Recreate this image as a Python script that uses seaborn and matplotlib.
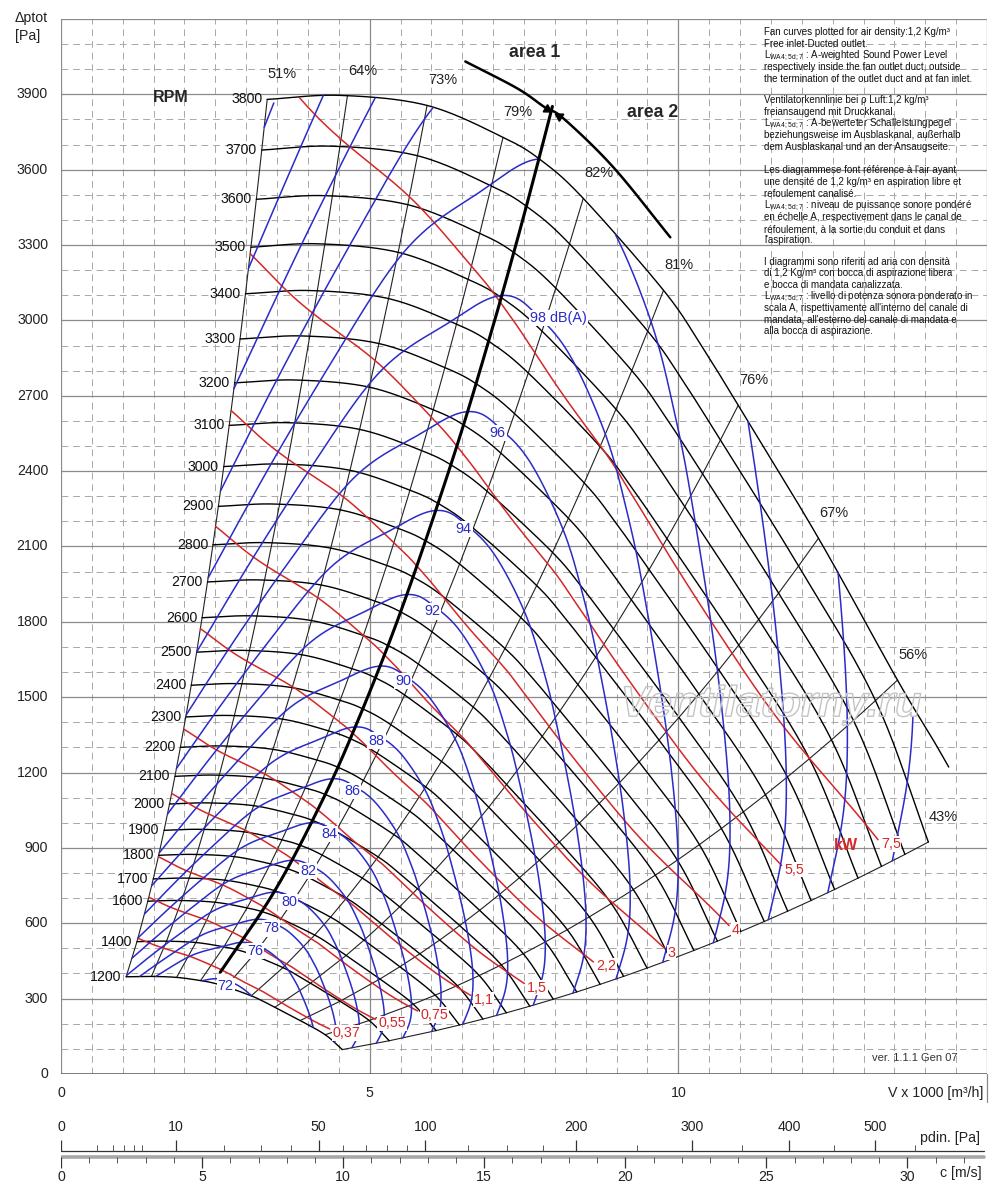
import numpy as np
import pandas as pd
import matplotlib
matplotlib.use("Agg")
import matplotlib.pyplot as plt
import matplotlib.patheffects as pe
import seaborn as sns

# ---------------- data ----------------
# 3800 rpm curve: V x 1000 m3/h and dp in Pa (last point = where it meets the 43% line)
base_v = [3.34, 4.52, 5.93, 7.16, 7.78, 8.46, 9.76, 10.36, 10.97, 12.27, 13.55, 14.43]
base_p = [3880, 3896, 3856, 3729, 3637, 3486, 3120, 2905, 2662, 2133, 1568, 974]
# the drawn 3800 curve stops short of the 43% line
top_tail_v = [14.13, 14.38]
top_tail_p = [1329, 1222]

rpm = [1200, 1400, 1600, 1700, 1800, 1900, 2000, 2100, 2200, 2300, 2400, 2500, 2600,
       2700, 2800, 2900, 3000, 3100, 3200, 3300, 3400, 3500, 3600, 3700, 3800]

# efficiency lines, given by the V where they meet the 3800 curve
eff_u = [3.34, 4.64, 5.93, 7.16, 8.46, 9.76, 10.97, 12.27, 13.55, 14.43]
eff_lab = ["51%", "64%", "73%", "79%", "82%", "81%", "76%", "67%", "56%", "43%"]

# sound: rpm at which 90 dB(A) is reached, along the curve (V on the 3800 curve)
snd_u = [3.34, 4.25, 5.09, 6.03, 7.0, 7.76, 8.35, 8.95, 9.75, 10.5, 11.13, 12.59, 13.8, 14.43]
snd_n90 = [1810, 1991, 2158, 2340, 2455, 2538, 2548, 2538, 2486, 2413, 2340, 2158, 1991, 1858]
snd_db = [72, 76, 78, 80, 82, 84, 86, 88, 90, 92, 94, 96, 98, 100, 102, 104, 106, 108]
snd_lab = ["72", "76", "78", "80", "82", "84", "86", "88", "90", "92", "94", "96",
           "98 dB(A)", "", "", "", "", ""]

# absorbed power: rpm for 1 kW along the curve
kw_u = [3.34, 4.44, 6.0, 8.3, 10.0, 12.15, 13.5, 14.43]
kw_n1 = [1975, 1907, 1845, 1766, 1735, 1720, 1735, 1815]
kw = [0.37, 0.55, 0.75, 1.1, 1.5, 2.2, 3, 4, 5.5, 7.5]
kw_lab = ["0,37", "0,55", "0,75", "1,1", "1,5", "2,2", "3", "4", "5,5", "7,5"]
kw_end = [13.35, 13.6, 13.8, 13.9, 14.05, 14.13, 14.3, 14.34, 14.1, 14.28]

# area 1 / area 2 border and the arrowed curve on top
border_v = [2.58, 3.44, 4.15, 4.73, 5.49, 6.35, 6.95, 7.39, 7.73, 7.96]
border_p = [405, 720, 1047, 1360, 1832, 2452, 2937, 3320, 3633, 3852]
area_v = [6.55, 7.39, 7.84, 8.14, 8.95, 9.87]
area_p = [4031, 3924, 3848, 3804, 3609, 3331]

# bottom scales
c_per_v = 2.188   # m/s per 1000 m3/h
pd_major = [0, 10, 50, 100, 200, 300, 400, 500]
pd_minor = [1, 2, 3, 4, 5, 20, 30, 40, 60, 70, 80, 90, 125, 150, 175, 250, 350, 450, 550]
c_major = [0, 5, 10, 15, 20, 25, 30]
c_minor = [1, 2, 3, 4, 6, 7, 8, 9, 11, 12, 13, 14, 16, 17, 18, 19, 21, 22, 23, 24,
           26, 27, 28, 29, 31, 32]

notes = [
    (32, "Fan curves plotted for air density:1,2 Kg/m³"),
    (44, "Free inlet-Ducted outlet."),
    (56, r"L$_{\mathregular{WA4;5d;7}}$ : A-weighted Sound Power Level"),
    (67, "respectively inside the fan outlet duct, outside"),
    (79, "the termination of the outlet duct and at fan inlet."),
    (100, "Ventilatorkennlinie bei ρ Luft:1,2 kg/m³"),
    (112, "freiansaugend mit Druckkanal."),
    (124, r"L$_{\mathregular{WA4;5d;7}}$ : A-bewerteter Schalleistungpegel"),
    (135, "beziehungsweise im Ausblaskanal, außerhalb"),
    (147, "dem Ausblaskanal und an der Ansaugseite."),
    (170, "Les diagrammese font référence à l'air ayant"),
    (182, "une densité de 1,2 kg/m³ en aspiration libre et"),
    (194, "refoulement canalisé."),
    (206, r"L$_{\mathregular{WA4;5d;7}}$ : niveau de puissance sonore pondéré"),
    (217, "en échelle A, respectivement dans le canal de"),
    (229, "réfoulement, à la sortie du conduit et dans"),
    (240, "l'aspiration."),
    (262, "I diagrammi sono riferiti ad aria con densità"),
    (273, "di 1,2 Kg/m³ con bocca di aspirazione libera"),
    (285, "e bocca di mandata canalizzata."),
    (297, r"L$_{\mathregular{WA4;5d;7}}$ : livello di potenza sonora ponderato in"),
    (308, "scala A, rispettivamente all'interno del canale di"),
    (320, "mandata, all'esterno del canale di mandata e"),
    (331, "alla bocca di aspirazione."),
]

BLUE = "#2b2bc8"
RED = "#d42828"


def smooth(x, y, k=20):
    # catmull-rom through the read points, only so the lines are drawn round
    x = np.asarray(x, float)
    y = np.asarray(y, float)
    t = np.linspace(0, 1, k, endpoint=False)[:, None]
    out = []
    for P in (x, y):
        P = np.r_[2 * P[0] - P[1], P, 2 * P[-1] - P[-2]]
        p0, p1, p2, p3 = P[:-3], P[1:-2], P[2:-1], P[3:]
        seg = 0.5 * (2 * p1 + (p2 - p0) * t + (2 * p0 - 5 * p1 + 4 * p2 - p3) * t ** 2
                     + (3 * p1 - p0 - 3 * p2 + p3) * t ** 3)
        out.append(np.r_[seg.T.ravel(), P[-2]])
    return out[0], out[1]


bu, bp = smooth(base_v, base_p, 30)


def on_chart(u, n):
    # fan laws: V ~ n, dp ~ n^2 at the same point of the curve
    r = np.asarray(n, float) / 3800.0
    return u * r, np.interp(u, bu, bp) * r ** 2


sns.set_theme(style="white")
plt.rcParams["font.family"] = ["Liberation Sans", "DejaVu Sans"]
plt.rcParams["mathtext.fontset"] = "custom"
plt.rcParams["mathtext.rm"] = "Liberation Sans"

fig = plt.figure(figsize=(10, 12.04), dpi=100)
ax = fig.add_axes([0.061, 0.108, 0.926, 0.8762])
ax.set_xlim(0, 15)
ax.set_ylim(0, 4200)
for s in ax.spines.values():
    s.set_visible(False)

# grid
for x in np.arange(0, 15.01, 0.5):
    if abs(x % 5) < 1e-9:
        ax.axvline(x, color="#8a8a8a", lw=0.9, zorder=0)
    else:
        ax.axvline(x, color="#a8a8a8", lw=0.7, ls=(0, (7, 5)), zorder=0)
for y in range(100, 4201, 100):
    if y % 300 == 0:
        ax.axhline(y, color="#8a8a8a", lw=0.9, zorder=0)
    else:
        ax.axhline(y, color="#a8a8a8", lw=0.7, ls=(0, (7, 5)), zorder=0)
ax.axhline(0, color="#555555", lw=1.8, zorder=0)
ax.plot([15, 15], [0, -112], color="#8a8a8a", lw=0.9, clip_on=False)

# rpm curves
parts = []
keep = [i for i, v in enumerate(base_v) if v <= 13.55]
tv, tp = smooth([base_v[i] for i in keep] + top_tail_v, [base_p[i] for i in keep] + top_tail_p, 30)
for n in rpm:
    if n == 3800:
        v, p = tv, tp
    else:
        v, p = on_chart(bu, n)
    parts.append(pd.DataFrame({"V": v, "p": p, "rpm": n}))
    ax.annotate(str(n), (v[0], p[0]), xytext=(-3.5, 0), textcoords="offset points",
                ha="right", va="center", fontsize=10.2, color="#111111")
df_rpm = pd.concat(parts, ignore_index=True)
sns.lineplot(data=df_rpm, x="V", y="p", units="rpm", estimator=None, sort=False,
             color="black", lw=1.0, ax=ax, legend=False, zorder=2)

# efficiency lines
parts = []
for u, lab in zip(eff_u, eff_lab):
    ns = np.array(rpm, float)
    if u > top_tail_v[-1]:
        ns = ns[:-1]
    v, p = on_chart(u, ns)
    parts.append(pd.DataFrame({"V": v, "p": p, "eff": lab}))
    ax.annotate(lab, (v[-1], p[-1]), xytext=(11, 18), textcoords="offset points",
                ha="center", va="center", fontsize=10.5, color="#222222")
df_eff = pd.concat(parts, ignore_index=True)
sns.lineplot(data=df_eff, x="V", y="p", units="eff", estimator=None, sort=False,
             color="#222222", lw=0.8, ax=ax, legend=False, zorder=1)

# power lines (P ~ n^3)
ku, kn = smooth(kw_u, kw_n1, 40)
for P, lab, ue in zip(kw, kw_lab, kw_end):
    n = kn * P ** (1 / 3)
    ok = (n <= 3800) & (ku <= ue)
    v, p = on_chart(ku[ok], n[ok])
    ax.plot(v, p, color=RED, lw=1.1, zorder=3)
    ax.annotate(lab, (v[-1], p[-1]), xytext=(2, -3), textcoords="offset points",
                ha="left", va="center", fontsize=10.3, color=RED, zorder=6,
                bbox=dict(boxstyle="square,pad=0.05", fc="white", ec="none"))
ax.text(12.71, 911, "kW", color=RED, fontsize=11.5, fontweight="bold",
        ha="center", va="center", zorder=6)

# sound level lines
su, sn = smooth(snd_u, snd_n90, 40)
for L, lab in zip(snd_db, snd_lab):
    f = 10 ** ((L - 90) / 57.0)
    n = sn * f
    n = np.where((n >= 1200) & (n <= 3800), n, np.nan)
    v, p = on_chart(su, n)
    ax.plot(v, p, color=BLUE, lw=1.1, zorder=3)
    if lab:
        nl = np.interp(8.3, su, sn) * f
        vl, pl = on_chart(8.3, nl)
        if lab.startswith("98"):
            ax.annotate(lab, (vl, pl), xytext=(-4, -3), textcoords="offset points",
                        ha="left", va="center", fontsize=10.4, color=BLUE, zorder=6,
                        bbox=dict(boxstyle="square,pad=0.08", fc="white", ec="none"))
        else:
            ax.annotate(lab, (vl, pl), xytext=(-1, -4), textcoords="offset points",
                        ha="center", va="center", fontsize=10.4, color=BLUE, zorder=6,
                        bbox=dict(boxstyle="square,pad=0.08", fc="white", ec="none"))

# area border
xv, xp = smooth(border_v, border_p, 20)
ax.plot(xv, xp, color="black", lw=2.2, zorder=4)
xv, xp = smooth(area_v, area_p, 20)
ax.plot(xv, xp, color="black", lw=1.8, zorder=4)
ax.plot([7.87], [3842], marker=(3, 0, -121), ms=7, color="black", zorder=5)
ax.plot([8.07], [3813], marker=(3, 0, 59), ms=7, color="black", zorder=5)
ax.text(7.68, 4067, "area 1", fontsize=12.7, fontweight="bold", ha="center", va="center")
ax.text(9.58, 3828, "area 2", fontsize=12.7, fontweight="bold", ha="center", va="center")
ax.text(1.77, 3888, "RPM", fontsize=11.5, fontweight="bold", ha="center", va="center")

# watermark
ax.text(11.5, 1468, "Ventilatorny.ru", fontsize=31, fontstyle="italic", fontweight="bold",
        color="none", ha="center", va="center", zorder=7,
        path_effects=[pe.withStroke(linewidth=1.0, foreground="#c4c4c4")])

ax.text(14.52, 64, "ver. 1.1.1 Gen 07", fontsize=8, ha="right", va="center", color="#333333")

# axis texts
ax.set_xlabel("")
ax.set_ylabel("")
ax.set_xticks([])
ax.set_yticks([])
for y in range(0, 4000, 300):
    ax.text(-0.21, y, str(y), ha="right", va="center", fontsize=10.2, color="#222222")
for x in [0, 5, 10]:
    ax.text(x, -76, str(x), ha="center", va="center", fontsize=10.2, color="#222222")
ax.text(14.94, -76, "V x 1000 [m³/h]", ha="right", va="center", fontsize=10.2, color="#222222")
fig.text(0.015, 1 - 18 / 1204, "Δptot", ha="left", va="center", fontsize=10.2, color="#222222")
fig.text(0.015, 1 - 36 / 1204, "[Pa]", ha="left", va="center", fontsize=10.2, color="#222222")

for py, line in notes:
    fig.text(0.764, 1 - py / 1204, line, ha="left", va="center", fontsize=7, color="#111111")

# pdin and c scales
ax2 = fig.add_axes([0.061, 0.0116, 0.926, 0.0706])
ax2.set_xlim(0, 15)
ax2.set_ylim(0, 1)
ax2.axis("off")


def pd_to_v(pd_):
    return np.sqrt(2 * np.asarray(pd_, float) / 1.2) / c_per_v


ax2.plot([0, 14.95], [0.459, 0.459], color="#333333", lw=0.9)
ax2.vlines(pd_to_v(pd_major), 0.459, 0.59, color="#333333", lw=0.9)
ax2.vlines(pd_to_v(pd_minor), 0.459, 0.53, color="#555555", lw=0.7)
for val, xv_ in zip(pd_major, pd_to_v(pd_major)):
    ax2.text(xv_, 0.74, str(val), ha="center", va="center", fontsize=10.2, color="#222222")
ax2.text(14.88, 0.61, "pdin. [Pa]", ha="right", va="center", fontsize=10.2, color="#222222")

ax2.plot([0, 14.95], [0.39, 0.39], color="#a8a8a8", lw=2.6)
cm = np.array(c_major, float) / c_per_v
ax2.vlines(cm, 0.26, 0.39, color="#333333", lw=0.9)
ax2.vlines(np.array(c_minor, float) / c_per_v, 0.32, 0.39, color="#555555", lw=0.7)
for val, xv_ in zip(c_major, cm):
    ax2.text(xv_, 0.15, str(val), ha="center", va="center", fontsize=10.2, color="#222222")
ax2.text(14.91, 0.2, "c [m/s]", ha="right", va="center", fontsize=10.2, color="#222222")

fig.savefig("out.png", dpi=100, facecolor="white")
